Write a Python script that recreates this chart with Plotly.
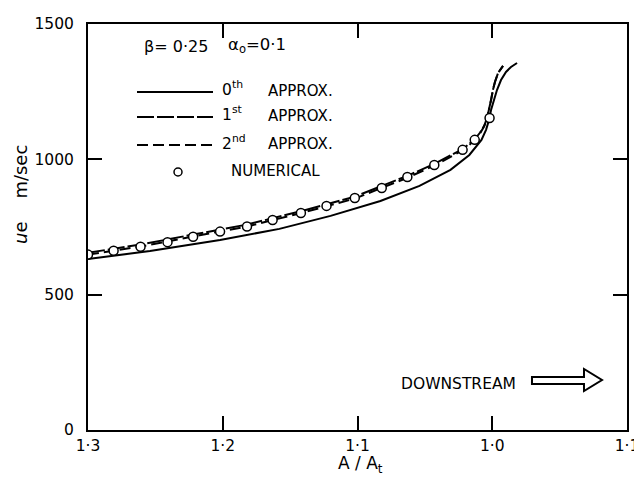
import plotly.graph_objects as go

# ---- data ----
# x: axial position expressed through A/At; 1.3 -> 1.0 is the converging side,
# values below 1.0 lie past the throat (labelled again by A/At, e.g. 0.9 -> "1·1")
x_zeroth = [1.300, 1.254, 1.202, 1.158, 1.120, 1.083, 1.054, 1.031, 1.017, 1.008,
            1.0046, 1.0024, 1.0009, 0.9987, 0.9965, 0.9935, 0.9898, 0.9861, 0.9816]
u_zeroth = [632, 661, 702, 743, 791, 846, 902, 961, 1016, 1072,
            1109, 1145, 1182, 1219, 1256, 1293, 1323, 1341, 1356]

x_first = [1.300, 1.261, 1.222, 1.182, 1.143, 1.102, 1.063, 1.043, 1.022, 1.013,
           1.009, 1.006, 1.004, 1.0024, 1.0009, 0.9995, 0.998, 0.9957, 0.992]
u_first = [655, 685, 722, 759, 807, 862, 939, 983, 1038, 1074,
           1099, 1124, 1150, 1182, 1219, 1256, 1286, 1319, 1345]

x_second = [1.300, 1.261, 1.222, 1.182, 1.143, 1.102, 1.063, 1.043, 1.022, 1.013,
            1.009, 1.006, 1.004, 1.0024, 1.0009, 0.9995, 0.998, 0.9957, 0.992]
u_second = [648, 678, 715, 752, 800, 855, 932, 977, 1033, 1070,
            1096, 1122, 1149, 1182, 1219, 1256, 1286, 1319, 1345]

x_num = [1.300, 1.281, 1.261, 1.241, 1.222, 1.202, 1.182, 1.163, 1.142, 1.123,
         1.102, 1.082, 1.063, 1.043, 1.022, 1.013, 1.002]
u_num = [648, 662, 677, 694, 714, 733, 752, 776, 802, 828,
         857, 894, 935, 979, 1035, 1072, 1153]

x_tickvals = [1.3, 1.2, 1.1, 1.0, 0.9]
x_ticktext = ["1·3", "1·2", "1·1", "1·0", "1·1"]
y_tickvals = [0, 500, 1000, 1500]
y_ticktext = ["0", "500", "1000", "1500"]

legend_orders = ["0<sup>th</sup>", "1<sup>st</sup>", "2<sup>nd</sup>"]
legend_word = "APPROX."
numerical_label = "NUMERICAL"

# ---- layout geometry (reference pixel coordinates) ----
PAGE_OFF = 8                           # default page body margin of the html page
W, H = 642 - PAGE_OFF, 477 - PAGE_OFF
L, R, T, B = 88, 627, 24, 430          # plot area in reference pixels
FONT = "DejaVu Sans"


def px(xp):
    return (xp - L) / (R - L)


def py(yp):
    return (B - yp) / (B - T)


DASH1 = "17px,3px"
DASH2 = "11px,5px"

fig = go.Figure()
fig.add_trace(go.Scatter(x=x_zeroth, y=u_zeroth, mode="lines",
                         line=dict(color="black", width=2), name="0th"))
fig.add_trace(go.Scatter(x=x_first, y=u_first, mode="lines",
                         line=dict(color="black", width=2, dash=DASH1), name="1st"))
fig.add_trace(go.Scatter(x=x_second, y=u_second, mode="lines",
                         line=dict(color="black", width=2, dash=DASH2), name="2nd"))
fig.add_trace(go.Scatter(x=x_num, y=u_num, mode="markers",
                         marker=dict(symbol="circle", size=9, color="white",
                                     line=dict(color="black", width=1.5)),
                         name="numerical"))

shapes = []
annotations = []


def text(t, x, y, size, xanchor="left", **kw):
    annotations.append(dict(text=t, xref="paper", yref="paper", x=px(x), y=py(y),
                            xanchor=xanchor, yanchor="middle", showarrow=False,
                            font=dict(family=FONT, size=size, color="black"), **kw))


# legend (drawn manually)
row_y = [92, 117, 145, 172]
dash_specs = ["solid", DASH1, DASH2]
for i in range(3):
    shapes.append(dict(type="line", xref="paper", yref="paper",
                       x0=px(137), x1=px(213), y0=py(row_y[i]), y1=py(row_y[i]),
                       line=dict(color="black", width=2, dash=dash_specs[i])))
    text(legend_orders[i], 220, row_y[i] - 3, 15.5)
    text(legend_word, 266, row_y[i] - 1, 15)
shapes.append(dict(type="circle", xref="paper", yref="paper",
                   x0=px(174), x1=px(182), y0=py(176), y1=py(168),
                   line=dict(color="black", width=1.5), fillcolor="white"))
text(numerical_label, 229, row_y[3] - 1, 15)

text("β= 0·25", 142, 46, 16)
text("α<sub>o</sub>=0·1", 226, 45, 16.5)

# downstream label + hollow arrow
text("DOWNSTREAM", 399, 384, 15.5)
pts = [(532, 377), (584, 377), (584, 369), (602, 380), (584, 391), (584, 384), (532, 384)]
path = "M " + " L ".join(f"{px(a):.4f},{py(b):.4f}" for a, b in pts) + " Z"
shapes.append(dict(type="path", xref="paper", yref="paper", path=path,
                   line=dict(color="black", width=2), fillcolor="white"))

# axis titles
text("<i>u</i>e\u00a0\u00a0\u00a0\u00a0m/sec", 20, 195, 18, xanchor="center", textangle=-90)
text("A / A<sub>t</sub>", 361, 464, 17, xanchor="center")

axis_common = dict(showgrid=False, zeroline=False, showline=True, linecolor="black",
                   linewidth=2, mirror="ticks", ticks="inside", ticklen=14,
                   tickwidth=1.5, tickcolor="black", automargin=False,
                   tickfont=dict(family=FONT, size=15.5, color="black"))

fig.update_layout(
    width=W, height=H,
    margin=dict(l=L - PAGE_OFF, r=W - (R - PAGE_OFF), t=T - PAGE_OFF, b=H - (B - PAGE_OFF)),
    paper_bgcolor="white", plot_bgcolor="white",
    showlegend=False,
    xaxis=dict(range=[1.3, 0.9], tickvals=x_tickvals, ticktext=x_ticktext,
               ticklabelstandoff=0, **axis_common),
    yaxis=dict(range=[0, 1500], tickvals=y_tickvals, ticktext=y_ticktext,
               ticklabelstandoff=9, **axis_common),
    shapes=shapes, annotations=annotations,
)

fig.write_html("out.html")
